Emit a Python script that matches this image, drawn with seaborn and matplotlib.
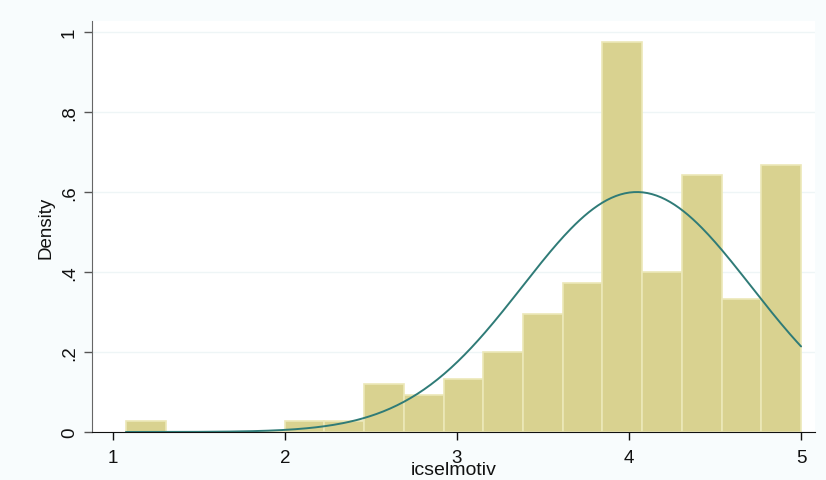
import numpy as np
import pandas as pd
import matplotlib
matplotlib.use("Agg")
import matplotlib.pyplot as plt
import seaborn as sns

# histogram of icselmotiv (density per bin)
x_min = 1.075
x_max = 5.0
n_bins = 17
densities = [0.0275, 0.0, 0.0, 0.0, 0.0275, 0.0275, 0.12, 0.0925, 0.133,
             0.20, 0.294, 0.373, 0.975, 0.40, 0.642, 0.333, 0.667]

# fitted normal curve parameters
mu = 4.045
sigma = 0.665

x_ticks = [1, 2, 3, 4, 5]
y_ticks = [0, 0.2, 0.4, 0.6, 0.8, 1.0]
y_labels = ["0", ".2", ".4", ".6", ".8", "1"]

edges = np.linspace(x_min, x_max, n_bins + 1)
centers = (edges[:-1] + edges[1:]) / 2
hist_df = pd.DataFrame({"icselmotiv": centers, "density": densities})

xs = np.linspace(x_min, x_max, 300)
curve_df = pd.DataFrame({
    "icselmotiv": xs,
    "density": np.exp(-0.5 * ((xs - mu) / sigma) ** 2) / (sigma * np.sqrt(2 * np.pi)),
})

sns.set_style("white")
plt.rcParams["font.family"] = ["Liberation Sans", "DejaVu Sans"]

fig = plt.figure(figsize=(8.26, 4.81), dpi=100, facecolor="#f8fcfd")
ax = fig.add_axes([92 / 826, 1 - 433 / 481, (815 - 92) / 826, (433 - 22) / 481])
ax.set_facecolor("white")

for yt in y_ticks[1:]:
    ax.axhline(yt, color="#eef5f6", lw=1, zorder=0)

sns.histplot(data=hist_df, x="icselmotiv", weights="density", bins=n_bins,
             binrange=(x_min, x_max), stat="count", color="#d9d290",
             edgecolor="#ece8b8", linewidth=1.2, alpha=1, ax=ax, zorder=2)
sns.lineplot(data=curve_df, x="icselmotiv", y="density", color="#2f7b77",
             lw=1.4, ax=ax, zorder=3)

ax.set_xlim(0.878, 5.081)
ax.set_ylim(0, 1.0275)
ax.set_xticks(x_ticks)
ax.set_xticklabels([str(t) for t in x_ticks], fontsize=13.5)
ax.set_yticks(y_ticks)
ax.set_yticklabels(y_labels, fontsize=13.5, rotation=90, va="center")
ax.tick_params(axis="both", direction="out", length=6, width=1, colors="#111111",
               bottom=True, left=True)
ax.tick_params(axis="x", pad=6)
ax.tick_params(axis="y", pad=4, colors="#555555", labelcolor="#111111")

ax.set_xlabel("icselmotiv", fontsize=14, labelpad=-3, color="#111111")
ax.set_ylabel("Density", fontsize=13.5, labelpad=5, color="#111111")

for s in ["top", "right"]:
    ax.spines[s].set_visible(False)
ax.spines["left"].set_color("#666666")
ax.spines["bottom"].set_color("#111111")

fig.savefig("out.png", dpi=100, facecolor=fig.get_facecolor())
